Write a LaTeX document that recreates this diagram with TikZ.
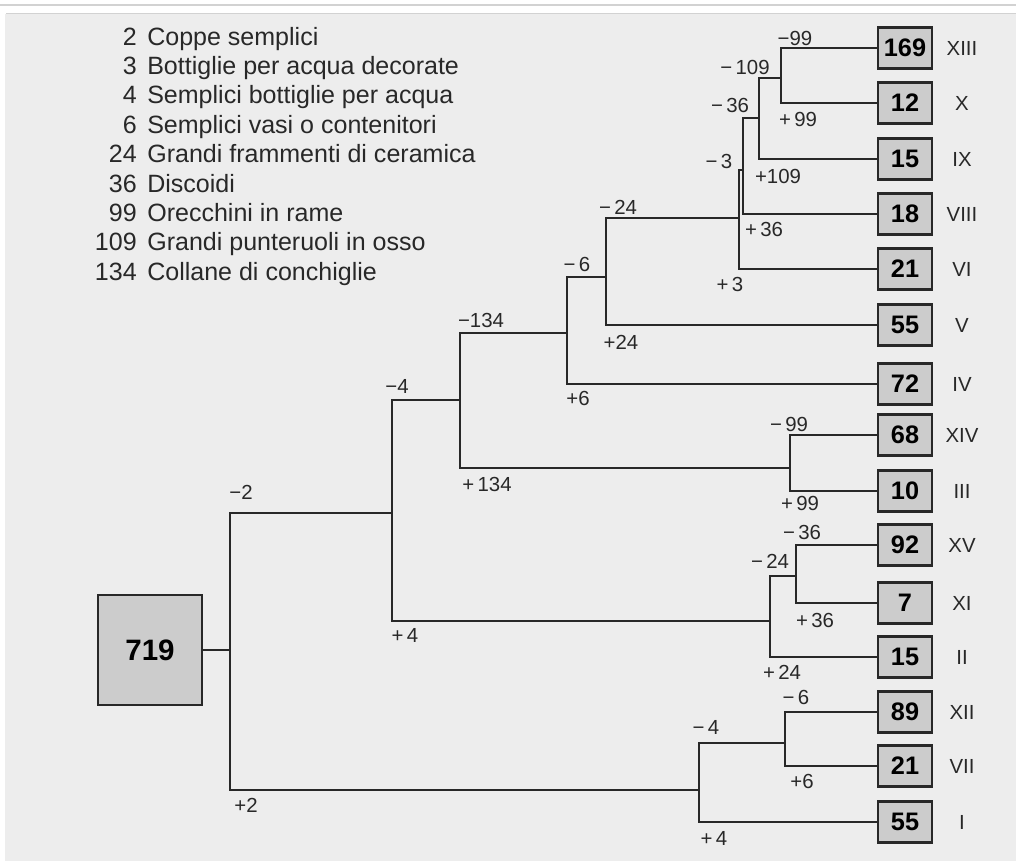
\documentclass[tikz,border=0pt]{standalone}
\usepackage{fontspec}
\setmainfont{Liberation Sans}
\usetikzlibrary{positioning}
\definecolor{paper}{RGB}{237, 237, 237}
\definecolor{boxfill}{RGB}{204, 204, 204}
\definecolor{ink}{RGB}{40, 40, 40}

\begin{document}
\begin{tikzpicture}[x=0.025cm, y=-0.025cm,
			leaf/.style={draw=ink, fill=boxfill, line width=1.6pt, minimum width=1.35cm, minimum height=1.02cm, inner sep=0pt, font=\fontsize{18}{21}\selectfont\bfseries},
			origin/.style={draw=ink, fill=boxfill, line width=1.6pt, minimum width=2.6cm, minimum height=2.75cm, inner sep=0pt, font=\fontsize{21}{25}\selectfont\bfseries},
			branch/.style={draw=ink, line width=1.5pt},
			tag/.style={font=\fontsize{14.5}{17}\selectfont, text=ink, inner sep=0pt},
			roman/.style={font=\fontsize{14.5}{17}\selectfont, text=ink, inner sep=0pt},
			legend/.style={font=\fontsize{17.8}{21}\selectfont, text=ink, inner sep=0pt}
			]
			\useasboundingbox (0,0) rectangle (1016,861);
			% Page
			\fill[paper] (5,14) rectangle (1016,861);
			\draw[gray!35, line width=0.8pt] (0,5) -- (1016,5);
			\draw[gray!35, line width=0.8pt] (6,13.5) -- (1016,13.5);
			
			% Legend
			\foreach \n/\txt [count=\i] in {2/Coppe semplici, 3/Bottiglie per acqua decorate, 4/Semplici bottiglie per acqua, 6/Semplici vasi o contenitori, 24/Grandi frammenti di ceramica, 36/Discoidi, 99/Orecchini in rame, 109/Grandi punteruoli in osso, 134/Collane di conchiglie} {
				\node[legend, anchor=base east] (num\i) at (137, {45+29.4*(\i-1)}) {\n};
				\node[legend, anchor=base west] (item\i) at (147, {45+29.4*(\i-1)}) {\txt};
			}
			
			% Root
			\node[origin] (root) at (150,650) {719};
			
			% Groups
			\foreach \val/\rom/\y in {169/XIII/48, 12/X/103, 15/IX/159, 18/VIII/214, 21/VI/269, 55/V/325, 72/IV/384, 68/XIV/435, 10/III/491, 92/XV/545, 7/XI/603, 15/II/657, 89/XII/712, 21/VII/766, 55/I/822} {
				\node[leaf] (g\rom) at (905,\y) {\val};
				\node[roman] (r\rom) at (962,\y) {\rom};
			}
			
			% Splits
			\coordinate (j2) at (230,650);
			\coordinate (j4) at (392,513);
			\coordinate (j4b) at (699,790);
			\coordinate (j134) at (460,400);
			\coordinate (j24b) at (770,621);
			\coordinate (j6) at (567,333);
			\coordinate (j99b) at (790,468);
			\coordinate (j24a) at (606,277);
			\coordinate (j3) at (739,218);
			\coordinate (j36a) at (743,170);
			\coordinate (j109) at (759,118);
			\coordinate (j99a) at (781,78);
			\coordinate (j36b) at (796,576);
			\coordinate (j6b) at (785,743);
			
			% Connections
			\draw[branch] (root) -- (j2);
			\foreach \a/\b in {j2/j4, j2/j4b, j4/j134, j4/j24b, j134/j6, j134/j99b, j6/j24a, j6/gIV.west, j24a/j3, j24a/gV.west, j3/j36a, j3/gVI.west, j36a/j109, j36a/gVIII.west, j109/j99a, j109/gIX.west, j99a/gXIII.west, j99a/gX.west, j99b/gXIV.west, j99b/gIII.west, j24b/j36b, j24b/gII.west, j36b/gXV.west, j36b/gXI.west, j4b/j6b, j4b/gI.west, j6b/gXII.west, j6b/gVII.west}
				\draw[branch] (\a) |- (\b);
			
			% Split labels
			\foreach \x/\y/\t [count=\i] in {241/492/−2, 246/805/+2, 397/386/−4, 405/635/+\,4, 481/320/−134, 487/484/+\,134, 577/264/−\,6, 578/398/+6, 618/207/−\,24, 621/342/+24, 719/161/−\,3, 730/284/+\,3, 730/105/−\,36, 764/229/+\,36, 745/67/−\,109, 778/176/+109, 795/38/−99, 798/119/+\,99, 789/424/−\,99, 800/503/+\,99, 802/532/−\,36, 815/620/+\,36, 770/561/−\,24, 782/672/+\,24, 796/697/−\,6, 802/781/+6, 706/727/−\,4, 714/838/+\,4}
				\node[tag] (tag\i) at (\x,\y) {\t};
		\end{tikzpicture}
\end{document}
